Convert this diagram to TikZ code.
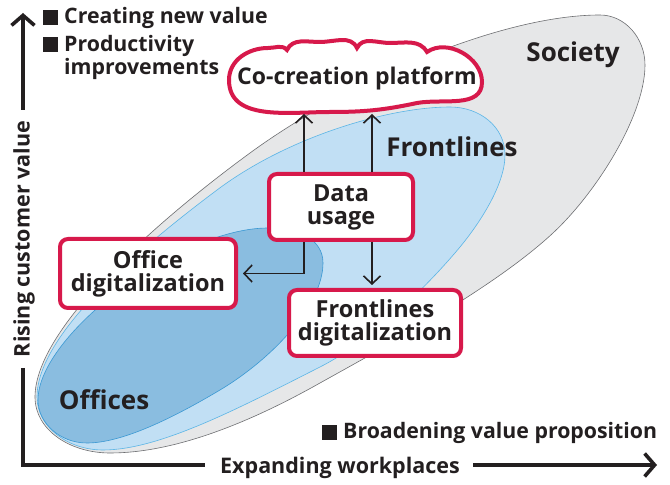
\documentclass[tikz,border=0pt]{standalone}
\usepackage{fontspec}
\setmainfont{Open Sans}
\usetikzlibrary{arrows.meta}
\definecolor{crim}{HTML}{D7194B}
\definecolor{ink}{HTML}{231F20}
\definecolor{socfill}{HTML}{E6E7E8}
\definecolor{socline}{HTML}{6D6E71}
\definecolor{frfill}{HTML}{C1DFF4}
\definecolor{frline}{HTML}{5BB5E6}
\definecolor{offill}{HTML}{8ABDE0}
\definecolor{ofline}{HTML}{3A98D3}
\tikzset{
  box/.style={draw=crim, line width=4pt, fill=white, rounded corners=8pt, align=center,
    inner sep=0pt, text=ink, font=\fontsize{23.5}{23}\selectfont\bfseries},
  lbl/.style={text=ink, font=\fontsize{26}{28}\selectfont\bfseries, inner sep=0pt},
  legend/.style={text=ink, font=\fontsize{21.3}{23}\selectfont\bfseries, inner sep=0pt, align=left},
  axlbl/.style={text=ink, font=\fontsize{21.5}{22}\selectfont\bfseries, inner sep=0pt},
  conn/.style={draw=ink, line width=1.6pt, -{Straight Barb[length=8pt,width=17pt]}},
  axis/.style={draw=ink, line width=3.6pt},
  axisarrow/.style={axis, -{Straight Barb[length=10pt,width=23pt]}},
}
\newcommand{\sqb}{\rule[-1pt]{15pt}{15pt}\hspace{6pt}}
\begin{document}
\begin{tikzpicture}[x=1pt,y=1pt]
\useasboundingbox (0,0) rectangle (670,485);
% Society
\filldraw[fill=socfill, draw=socline, line width=0.6pt]
 (35,88) .. controls (35,158) and (161,267) .. (250,332)
 .. controls (347,403) and (500,470) .. (600,470)
 .. controls (625,470) and (645,447) .. (645,420)
 .. controls (645,370) and (597,293) .. (553,252)
 .. controls (495,198) and (390,141) .. (320,102)
 .. controls (242,58) and (170,32) .. (110,32)
 .. controls (70,32) and (35,55) .. (35,88) -- cycle;
% Frontlines
\filldraw[fill=frfill, draw=frline, line width=0.6pt]
 (37,88) .. controls (37,150) and (137,235) .. (217,295)
 .. controls (289,349) and (390,378) .. (450,378)
 .. controls (480,378) and (505,358) .. (505,330)
 .. controls (505,300) and (479,261) .. (460,238)
 .. controls (428,199.5) and (373,145) .. (320,118)
 .. controls (240,77.5) and (160,35) .. (103,35)
 .. controls (68,35) and (37,58) .. (37,88) -- cycle;
% Offices
\filldraw[fill=offill, draw=ofline, line width=0.6pt]
 (38,85) .. controls (38,150) and (180,257) .. (268,257)
 .. controls (300,257) and (323,245) .. (323,222)
 .. controls (323,180) and (272,126) .. (220,95)
 .. controls (168,64) and (120,42) .. (87,42)
 .. controls (60,42) and (38,62) .. (38,85) -- cycle;
% labels
\node[lbl] (soc) at (573,430) {Society};
\node[lbl] (frl) at (452,338) {Frontlines};
\node[lbl] (off) at (104,85) {Offices};
% cloud
\filldraw[fill=white, draw=crim, line width=4pt]
 (287,435) to[out=65,in=180] (320,443) to[out=0,in=115] (357,437)
 to[out=65,in=180] (390,442) to[out=0,in=120] (427,433)
 to[out=35,in=90] (482,403) to[out=-90,in=10] (417,382)
 to[out=-168,in=0] (330,373) to[out=180,in=-90] (229,405)
 to[out=90,in=180] (268,437) to[out=0,in=130] (287,435) -- cycle;
\node[text=ink, font=\fontsize{23}{24}\selectfont\bfseries, inner sep=0pt] (cloud) at (357,407) {Co-creation platform};
% boxes
\node[box, minimum width=144pt, minimum height=66pt] (data) at (341,278) {Data\\usage};
\node[box, minimum width=176pt, minimum height=69pt] (office) at (148,211.5) {Office\\digitalization};
\node[box, minimum width=172pt, minimum height=66pt] (front) at (375,162) {Frontlines\\digitalization};
% connectors
\coordinate (c1) at (304,371);
\coordinate (c2) at (372,371);
\draw[conn] (data.north -| c1) -- (c1);
\draw[conn] (data.north -| c2) -- (c2);
\draw[conn] (data.south -| c1) |- ([xshift=5pt]office.east);
\draw[conn] (data.south -| c2) -- ([yshift=3pt]front.north -| c2);
% axes
\coordinate (origin) at (23,20);
\coordinate (ytop) at (23,472);
\coordinate (ylow) at (23,117);
\coordinate (yhigh) at (23,375);
\coordinate (xleft) at (205,20);
\coordinate (xright) at (473,20);
\coordinate (xend) at (657,20);
\draw[axis, line join=miter] (ylow) -- (origin) -- (xleft);
\draw[axisarrow] (yhigh) -- (ytop);
\draw[axisarrow] (xright) -- (xend);
\node[axlbl, rotate=90] (ylab) at (24,246) {Rising customer value};
\node[axlbl] (xlab) at (340,17) {Expanding workplaces};
% legends
\node[legend, anchor=west] (l1) at (43,467) {\sqb Creating new value};
\node[legend, anchor=north west] (l2) at (43,450) {\sqb Productivity\\\hspace{21pt}improvements};
\node[legend, anchor=west] (l3) at (322,52) {\sqb Broadening value proposition};
\end{tikzpicture}
\end{document}
